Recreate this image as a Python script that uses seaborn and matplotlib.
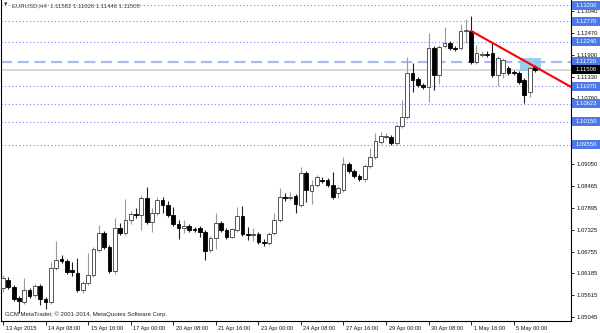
import matplotlib
matplotlib.use("Agg")
import matplotlib.pyplot as plt
import matplotlib.transforms as mtransforms
from matplotlib.patches import Rectangle
import seaborn as sns
import numpy as np
import pandas as pd

# ---------------- data (EURUSD H4) ----------------
opens = [1.05802, 1.06012, 1.05829, 1.05541, 1.05437, 1.05750, 1.05619, 1.05855, 1.05515, 1.05437,
         1.06325, 1.06560, 1.06508, 1.06273, 1.06195, 1.05750, 1.05933, 1.06142, 1.06796, 1.07240,
         1.06874, 1.06247, 1.07371, 1.07240, 1.07580, 1.07737, 1.07711, 1.08155, 1.07528, 1.07763,
         1.08103, 1.07972, 1.07711, 1.07475, 1.07371, 1.07423, 1.07345, 1.07371, 1.07266, 1.06796,
         1.07109, 1.07502, 1.07319, 1.07136, 1.07319, 1.07685, 1.07214, 1.07188, 1.07214, 1.07005,
         1.06979, 1.07240, 1.07580, 1.08181, 1.08155, 1.08207, 1.07972, 1.08809, 1.08338, 1.08495,
         1.08626, 1.08626, 1.08495, 1.08286, 1.08364, 1.09044, 1.08861, 1.08730, 1.08652, 1.08992,
         1.09227, 1.09619, 1.09750, 1.09750, 1.09593, 1.10037, 1.10273, 1.11423, 1.11266, 1.11109,
         1.11057, 1.12076, 1.11371, 1.12129, 1.12207, 1.12076, 1.12076, 1.12521, 1.12521, 1.11710,
         1.11893, 1.11919, 1.11946, 1.11371, 1.11423, 1.11553, 1.11449, 1.11423, 1.11240, 1.10926,
         1.11582]
highs = [1.06142, 1.06090, 1.05881, 1.05593, 1.06064, 1.05802, 1.05907, 1.05907, 1.05567, 1.06482,
         1.07031, 1.06665, 1.06560, 1.06482, 1.06587, 1.05985, 1.06717, 1.06874, 1.07449, 1.07292,
         1.06926, 1.07632, 1.07502, 1.08129, 1.07815, 1.07894, 1.08234, 1.08443, 1.07894, 1.08181,
         1.08181, 1.08077, 1.07920, 1.07580, 1.07580, 1.07475, 1.07397, 1.07423, 1.07319, 1.07162,
         1.07763, 1.07554, 1.07371, 1.07371, 1.07920, 1.07946, 1.07397, 1.07371, 1.07266, 1.07083,
         1.07266, 1.07763, 1.08417, 1.08286, 1.08312, 1.08260, 1.08966, 1.08861, 1.08626, 1.08756,
         1.08704, 1.08678, 1.08835, 1.08469, 1.09227, 1.09096, 1.08913, 1.08782, 1.09044, 1.09462,
         1.09855, 1.09881, 1.09855, 1.09802, 1.10090, 1.10717, 1.11841, 1.11684, 1.11318, 1.11161,
         1.12468, 1.12129, 1.12155, 1.12625, 1.12259, 1.12129, 1.12704, 1.12834, 1.12913, 1.12155,
         1.11998, 1.11998, 1.12207, 1.11867, 1.11815, 1.11606, 1.11501, 1.11475, 1.11292, 1.11606,
         1.11626]
lows = [1.05698, 1.05776, 1.05463, 1.05149, 1.05384, 1.05541, 1.05567, 1.05358, 1.05254, 1.05384,
        1.06273, 1.06456, 1.06168, 1.06116, 1.05698, 1.05672, 1.05881, 1.06090, 1.06743, 1.06822,
        1.06195, 1.06168, 1.07188, 1.07188, 1.07475, 1.07632, 1.07319, 1.07475, 1.07266, 1.07711,
        1.07763, 1.07658, 1.07423, 1.07083, 1.07240, 1.07266, 1.07266, 1.07136, 1.06534, 1.06743,
        1.06822, 1.07266, 1.07083, 1.07109, 1.07266, 1.07162, 1.07057, 1.07031, 1.06953, 1.06900,
        1.06926, 1.07188, 1.07528, 1.08077, 1.08103, 1.07763, 1.07920, 1.08051, 1.07998, 1.08443,
        1.08547, 1.08443, 1.08129, 1.08155, 1.08312, 1.08809, 1.08678, 1.08600, 1.08573, 1.08939,
        1.09174, 1.09567, 1.09697, 1.09540, 1.09540, 1.09985, 1.10220, 1.10926, 1.11057, 1.11005,
        1.10665, 1.10978, 1.11135, 1.12076, 1.12024, 1.11998, 1.12024, 1.12207, 1.11658, 1.11658,
        1.11841, 1.11841, 1.11318, 1.11083, 1.11292, 1.11371, 1.11371, 1.11135, 1.10637, 1.10795,
        1.11446]
closes = [1.06064, 1.05829, 1.05515, 1.05463, 1.05750, 1.05593, 1.05855, 1.05515, 1.05437, 1.06325,
          1.06534, 1.06508, 1.06221, 1.06221, 1.05750, 1.05933, 1.06142, 1.06822, 1.07240, 1.06874,
          1.06247, 1.07371, 1.07240, 1.07580, 1.07737, 1.07711, 1.08155, 1.07528, 1.07763, 1.08103,
          1.07972, 1.07711, 1.07475, 1.07371, 1.07423, 1.07319, 1.07319, 1.07266, 1.06770, 1.07109,
          1.07502, 1.07319, 1.07136, 1.07345, 1.07685, 1.07214, 1.07188, 1.07214, 1.07005, 1.06979,
          1.07214, 1.07580, 1.08181, 1.08155, 1.08181, 1.07998, 1.08809, 1.08364, 1.08495, 1.08704,
          1.08600, 1.08495, 1.08181, 1.08417, 1.09044, 1.08861, 1.08730, 1.08652, 1.08992, 1.09227,
          1.09645, 1.09776, 1.09776, 1.09593, 1.10037, 1.10273, 1.11423, 1.11240, 1.11109, 1.11057,
          1.12076, 1.11371, 1.12102, 1.12207, 1.12076, 1.12050, 1.12521, 1.12547, 1.11710, 1.11946,
          1.11919, 1.11893, 1.11371, 1.11815, 1.11763, 1.11423, 1.11423, 1.11188, 1.10848, 1.11553,
          1.11508]

x_tick_index = [0, 8, 16, 24, 32, 40, 48, 56, 64, 72, 80, 88, 96]
x_tick_labels = ["13 Apr 2015", "14 Apr 08:00", "15 Apr 16:00", "17 Apr 00:00", "20 Apr 08:00",
                 "21 Apr 16:00", "23 Apr 00:00", "24 Apr 08:00", "27 Apr 16:00", "29 Apr 00:00",
                 "30 Apr 08:00", "1 May 16:00", "5 May 00:00"]
y_ticks = [1.13040, 1.12470, 1.11900, 1.11330, 1.10760, 1.09050,
           1.08465, 1.07895, 1.07325, 1.06755, 1.06185, 1.05615, 1.05045]
dotted_levels = [1.13200, 1.12770, 1.12240, 1.11070, 1.10623, 1.10150, 1.09550]
dashed_level = 1.11720
bid_level = 1.11508
trend_index = [88, 106.8]
trend_price = [1.12521, 1.11057]
zone_index = [97.2, 101.1]
zone_price = [1.11475, 1.11815]
header = "EURUSD,H4  1.11582 1.11626 1.11446 1.11508"
footer = "GCM MetaTrader, \u00a9 2001-2014, MetaQuotes Software Corp."

# ---------------- styling ----------------
sns.set_theme(style="white")
plt.rcParams["font.family"] = ["Liberation Sans", "DejaVu Sans"]

df = pd.DataFrame({"i": np.arange(len(opens)), "open": opens, "high": highs,
                   "low": lows, "close": closes})
df["up"] = df["close"] >= df["open"]

fig = plt.figure(figsize=(6, 3.33), dpi=100)
fig.patch.set_facecolor("white")
ax = fig.add_axes([1 / 600, 12 / 333, 570 / 600, 321 / 333])
ax.set_facecolor("white")

# horizontal levels
for lv in dotted_levels:
    ax.axhline(lv, color="#6f8ff2", lw=0.8, linestyle=(0, (1, 2.2)), zorder=1)
ax.axhline(dashed_level, color="#a9bcf2", lw=1.6, linestyle=(0, (5, 2.5)), zorder=1)
ax.axhline(bid_level, color="#d0d0d0", lw=1.1, zorder=1)

# highlight zone
ax.add_patch(Rectangle((zone_index[0], zone_price[0]), zone_index[1] - zone_index[0],
                       zone_price[1] - zone_price[0], facecolor="#86c8ee", edgecolor="none",
                       alpha=0.85, zorder=2))

# wicks
up = df[df["up"]]
dn = df[~df["up"]]
ax.vlines(up["i"], up["low"], up["high"], colors="#9a9a9a", lw=0.8, zorder=3)
ax.vlines(dn["i"], dn["low"], dn["high"], colors="#202020", lw=0.8, zorder=3)

# bodies
min_h = 0.00003
body_lo = np.minimum(df["open"], df["close"])
body_h = np.maximum(np.abs(df["close"] - df["open"]), min_h)
ax.bar(df["i"][df["up"]], body_h[df["up"]], bottom=body_lo[df["up"]], width=0.7,
       color="white", edgecolor="#3a3a3a", linewidth=0.6, zorder=4)
ax.bar(df["i"][~df["up"]], body_h[~df["up"]], bottom=body_lo[~df["up"]], width=0.7,
       color="black", edgecolor="black", linewidth=0.6, zorder=4)

# trend line
sns.lineplot(x=trend_index, y=trend_price, color="#ff0000", lw=1.5, ax=ax, zorder=5)

ax.set_xlim(-0.38, 106.77)
ax.set_ylim(1.04940, 1.13331)

for s in ["left", "right", "bottom"]:
    ax.spines[s].set_visible(True)
    ax.spines[s].set_color("black")
    ax.spines[s].set_linewidth(0.8)
ax.spines["top"].set_visible(False)

# y axis on right
ax.yaxis.tick_right()
ax.set_yticks(y_ticks)
ax.set_yticklabels([f"{v:.5f}" for v in y_ticks])
ax.tick_params(axis="y", which="both", right=True, left=False, direction="out",
               length=2, width=0.6, pad=2, labelsize=4.2, labelcolor="#111111", color="black")

# x axis
ax.set_xticks(x_tick_index)
ax.set_xticklabels(x_tick_labels)
ax.tick_params(axis="x", bottom=True, direction="out", length=3, width=0.6, pad=0.5,
               labelsize=4.1, labelcolor="#111111", color="black")
offset = mtransforms.ScaledTranslation(2.5 / 100, 0, fig.dpi_scale_trans)
for lab in ax.get_xticklabels():
    lab.set_horizontalalignment("left")
    lab.set_transform(lab.get_transform() + offset)
ax.set_xlabel("")
ax.set_ylabel("")

# level boxes on price axis
bt = mtransforms.blended_transform_factory(ax.transAxes, ax.transData)
box_w = 28 / 570
box_h = 9 * (1.13331 - 1.04940) / 321
for lv in dotted_levels + [dashed_level]:
    ax.add_patch(Rectangle((1.0 + 1.5 / 570, lv - box_h / 2), box_w, box_h, transform=bt,
                           facecolor="#4d78e6", edgecolor="none", clip_on=False, zorder=6))
    ax.text(1.0 + 1.5 / 570 + box_w / 2, lv, f"{lv:.5f}", transform=bt, ha="center",
            va="center", fontsize=4.2, color="white", clip_on=False, zorder=7)
ax.add_patch(Rectangle((1.0 + 1.5 / 570, bid_level - box_h / 2), box_w, box_h, transform=bt,
                       facecolor="black", edgecolor="none", clip_on=False, zorder=6))
ax.text(1.0 + 1.5 / 570 + box_w / 2, bid_level, f"{bid_level:.5f}", transform=bt, ha="center",
        va="center", fontsize=4.2, color="white", clip_on=False, zorder=7)

# header and footer texts
fig.text(4 / 600, 1 - 5 / 333, "\u25bc", fontsize=3.2, color="#222222", va="center",
         family=["DejaVu Sans"])
fig.text(12 / 600, 1 - 5.5 / 333, header, fontsize=4.3, color="#444444", va="center")
fig.text(5 / 600, 1 - 314 / 333, footer, fontsize=4.3, color="#222222", va="center")

fig.savefig("out.png", dpi=100, facecolor="white")
